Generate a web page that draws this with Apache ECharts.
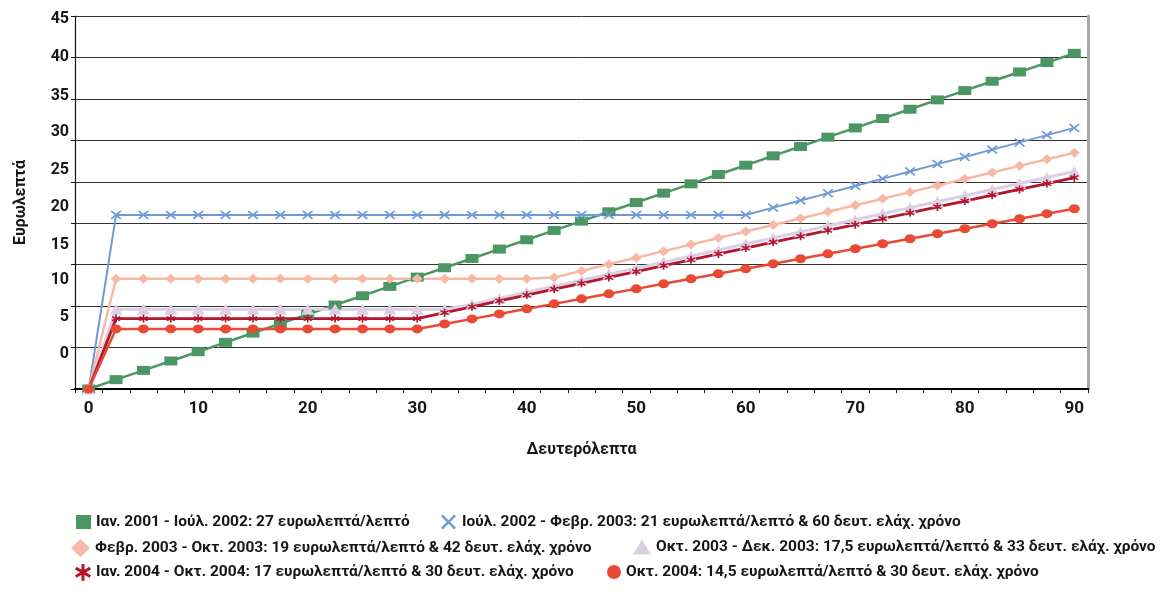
<!DOCTYPE html>
<html>
<head>
<meta charset="utf-8">
<script src="https://cdn.jsdelivr.net/npm/echarts@6/dist/echarts.min.js"></script>
<style>
html,body{margin:0;padding:0;background:#fff;}
#main{width:1165px;height:601px;}
</style>
</head>
<body>
<div id="main"></div>
<script>
// ---- DATA ----
const seconds = ['0','2.5','5','7.5','10','12.5','15','17.5','20','22.5','25','27.5','30','32.5','35','37.5','40','42.5','45','47.5','50','52.5','55','57.5','60','62.5','65','67.5','70','72.5','75','77.5','80','82.5','85','87.5','90'];
const seriesNames = [
  'Ιαν. 2001 - Ιούλ. 2002: 27 ευρωλεπτά/λεπτό',
  'Ιούλ. 2002 - Φεβρ. 2003: 21 ευρωλεπτά/λεπτό & 60 δευτ. ελάχ. χρόνο',
  'Φεβρ. 2003 - Οκτ. 2003: 19 ευρωλεπτά/λεπτό & 42 δευτ. ελάχ. χρόνο',
  'Οκτ. 2003 - Δεκ. 2003: 17,5 ευρωλεπτά/λεπτό & 33 δευτ. ελάχ. χρόνο',
  'Ιαν. 2004 - Οκτ. 2004: 17 ευρωλεπτά/λεπτό & 30 δευτ. ελάχ. χρόνο',
  'Οκτ. 2004: 14,5 ευρωλεπτά/λεπτό & 30 δευτ. ελάχ. χρόνο'
];
const green = [0,1.13,2.25,3.38,4.5,5.63,6.75,7.88,9,10.13,11.25,12.38,13.5,14.63,15.75,16.88,18,19.13,20.25,21.38,22.5,23.63,24.75,25.88,27,28.13,29.25,30.38,31.5,32.63,33.75,34.88,36,37.13,38.25,39.38,40.5];
const blue = [0,21,21,21,21,21,21,21,21,21,21,21,21,21,21,21,21,21,21,21,21,21,21,21,21,21.88,22.75,23.63,24.5,25.38,26.25,27.13,28,28.88,29.75,30.63,31.5];
const pink = [0,13.3,13.3,13.3,13.3,13.3,13.3,13.3,13.3,13.3,13.3,13.3,13.3,13.3,13.3,13.3,13.3,13.46,14.25,15.04,15.83,16.63,17.42,18.21,19,19.79,20.58,21.38,22.17,22.96,23.75,24.54,25.33,26.13,26.92,27.71,28.5];
const lavender = [0,9.63,9.63,9.63,9.63,9.63,9.63,9.63,9.63,9.63,9.63,9.63,9.63,9.63,10.21,10.94,11.67,12.4,13.13,13.85,14.58,15.31,16.04,16.77,17.5,18.23,18.96,19.69,20.42,21.15,21.88,22.6,23.33,24.06,24.79,25.52,26.25];
const darkred = [0,8.5,8.5,8.5,8.5,8.5,8.5,8.5,8.5,8.5,8.5,8.5,8.5,9.21,9.92,10.63,11.33,12.04,12.75,13.46,14.17,14.88,15.58,16.29,17,17.71,18.42,19.13,19.83,20.54,21.25,21.96,22.67,23.38,24.08,24.79,25.5];
const red = [0,7.25,7.25,7.25,7.25,7.25,7.25,7.25,7.25,7.25,7.25,7.25,7.25,7.85,8.46,9.06,9.67,10.27,10.88,11.48,12.08,12.69,13.29,13.9,14.5,15.1,15.71,16.31,16.92,17.52,18.13,18.73,19.33,19.94,20.54,21.15,21.75];
const yTicks = [0,5,10,15,20,25,30,35,40,45];
const xTitle = 'Δευτερόλεπτα';
const yTitle = 'Ευρωλεπτά';

// ---- STYLE ----
const FONT = 'Roboto, "Noto Sans", sans-serif';
const TXT = '#161616';
const FW = 'bold';
const X_PATH = 'path://M0,1.2 L1.2,0 L5,3.8 L8.8,0 L10,1.2 L6.2,5 L10,8.8 L8.8,10 L5,6.2 L1.2,10 L0,8.8 L3.8,5 Z';
const AST_PATH = 'path://M4.1,0 L5.9,0 L5.9,10 L4.1,10 Z M0.2,3.3 L1.1,1.7 L9.8,6.7 L8.9,8.3 Z M1.1,8.3 L0.2,6.7 L8.9,1.7 L9.8,3.3 Z';
// label vertical shifts (px, positive = upward) as seen in the reference
const yLabelShift = {0:35,5:31,10:26,15:20,20:16,25:12,30:8,35:3,40:0,45:-3};
const rich = {};
yTicks.forEach(v => {
  const s = yLabelShift[v];
  rich['o' + v] = {
    fontSize: 16, fontFamily: FONT, fontWeight: FW, color: TXT,
    padding: s >= 0 ? [0, 0, 2 * s, 0] : [-2 * s, 0, 0, 0]
  };
});

const styles = [
  {color:'#4b9763', symbol:'rect', size:[13,9], lw:2.5, icon:'rect', iw:15, ih:14, left:76, top:514},
  {color:'#6f9ad6', symbol:X_PATH, size:[11,9], lw:2, icon:X_PATH, iw:17, ih:15, left:441, top:514},
  {color:'#f7b8a6', symbol:'diamond', size:[11,10], lw:2.5, icon:'diamond', iw:19, ih:18, left:71, top:539},
  {color:'#dccfe4', symbol:'triangle', size:[13,11], lw:3, icon:'triangle', iw:18, ih:15, left:633, top:539},
  {color:'#b3152c', symbol:AST_PATH, size:[9,8], lw:2.8, icon:AST_PATH, iw:16, ih:18, left:75, top:564},
  {color:'#e84a35', symbol:'circle', size:[11,9], lw:2.5, icon:'circle', iw:14, ih:14, left:607, top:564}
];
const values = [green, blue, pink, lavender, darkred, red];

const series = values.map((d, i) => ({
  name: seriesNames[i],
  type: 'line',
  data: d,
  symbol: styles[i].symbol,
  symbolSize: styles[i].size,
  showAllSymbol: true,
  color: styles[i].color,
  lineStyle: {width: styles[i].lw, color: styles[i].color},
  itemStyle: {color: styles[i].color},
  animation: false
}));

const legends = styles.map((s, i) => ({
  data: [{name: seriesNames[i], icon: s.icon}],
  left: s.left, top: s.top,
  itemWidth: s.iw, itemHeight: s.ih,
  padding: 0, itemGap: 0,
  selectedMode: false,
  textStyle: {fontSize: 15.5, fontFamily: FONT, fontWeight: FW, color: TXT}
}));

const chart = echarts.init(document.getElementById('main'), null, {renderer:'canvas'});
chart.setOption({
  backgroundColor: '#fff',
  animation: false,
  grid: {left: 75, right: 77, top: 16, bottom: 212, containLabel: false},
  legend: legends,
  xAxis: [{
    type: 'category',
    data: seconds,
    boundaryGap: true,
    name: xTitle,
    nameLocation: 'middle',
    nameGap: 53,
    nameTextStyle: {fontSize: 16, fontFamily: FONT, fontWeight: FW, color: TXT},
    axisLine: {lineStyle: {color: '#111', width: 1.5}},
    axisTick: {show: true, interval: 0, alignWithLabel: false, length: 4, lineStyle: {color: '#111'}},
    axisLabel: {interval: 3, margin: 11, fontSize: 17, fontFamily: FONT, fontWeight: FW, color: TXT},
    splitLine: {show: false}
  }, {
    type: 'category',
    data: seconds,
    position: 'top',
    axisLine: {lineStyle: {color: '#000', width: 2}},
    axisTick: {show: false},
    axisLabel: {show: false},
    splitLine: {show: false}
  }],
  yAxis: [{
    type: 'value',
    min: 0, max: 45, interval: 5,
    name: yTitle,
    nameLocation: 'middle',
    nameRotate: 90,
    nameGap: 46,
    nameTextStyle: {fontSize: 16, fontFamily: FONT, fontWeight: FW, color: TXT},
    axisLine: {show: true, lineStyle: {color: '#111', width: 1.2}},
    axisTick: {show: true, length: 4, lineStyle: {color: '#111'}},
    axisLabel: {
      margin: 6,
      formatter: v => '{o' + v + '|' + v + '}',
      rich: rich
    },
    splitLine: {show: true, lineStyle: {color: '#333', width: 1}}
  }, {
    type: 'value',
    min: 0, max: 45, interval: 5,
    position: 'right',
    axisLine: {show: true, lineStyle: {color: '#a8a8a8', width: 3}},
    axisTick: {show: false},
    axisLabel: {show: false},
    splitLine: {show: false}
  }],
  series: series
});
</script>
</body>
</html>
